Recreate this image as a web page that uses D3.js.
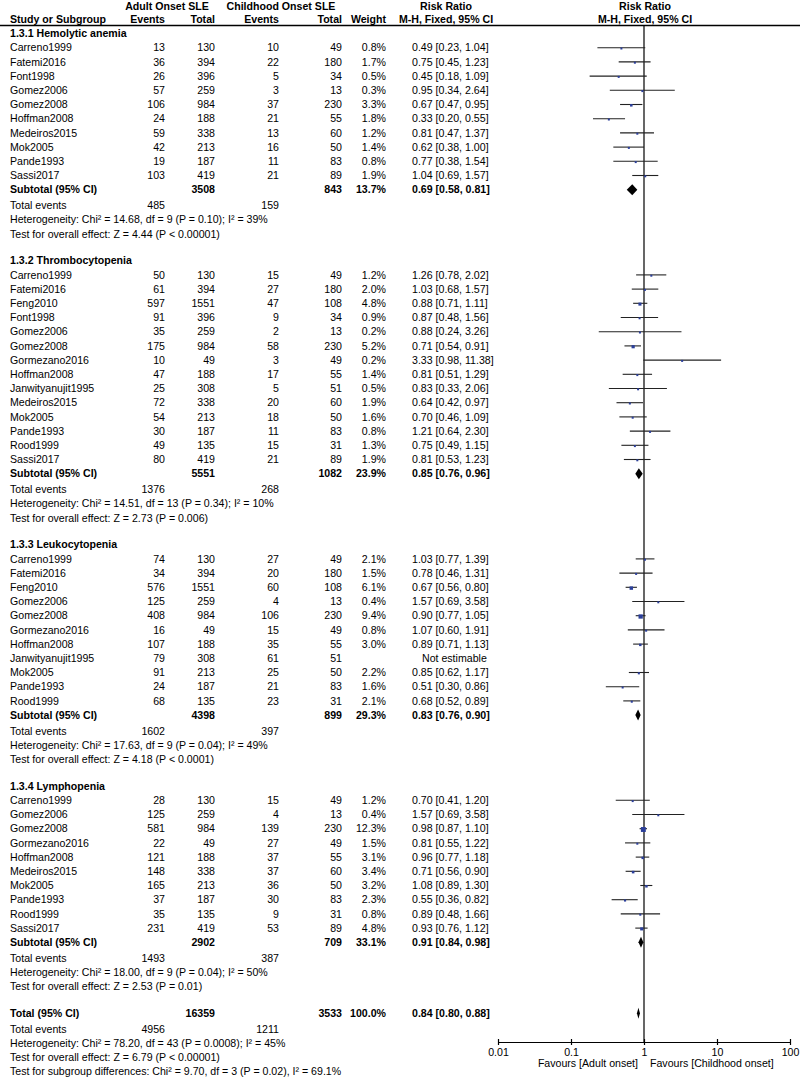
<!DOCTYPE html>
<html><head><meta charset="utf-8">
<script src="https://cdn.jsdelivr.net/npm/d3@7"></script>
<style>
html,body{margin:0;padding:0;background:#fff;}
text{font-family:"Liberation Sans",Arial,sans-serif;font-size:10.6px;fill:#000;}
.b{font-weight:bold;}
</style></head>
<body>
<svg id="c" width="800" height="1077"></svg>
<script>
// ---- DATA ----
// row: [study, adultEvents, adultTotal, childEvents, childTotal, weight%, RR, lower, upper]
const subgroupNames = ["1.3.1 Hemolytic anemia","1.3.2 Thrombocytopenia","1.3.3 Leukocytopenia","1.3.4 Lymphopenia"];
const hemolytic = [
 ["Carreno1999",13,130,10,49,0.8,0.49,0.23,1.04],
 ["Fatemi2016",36,394,22,180,1.7,0.75,0.45,1.23],
 ["Font1998",26,396,5,34,0.5,0.45,0.18,1.09],
 ["Gomez2006",57,259,3,13,0.3,0.95,0.34,2.64],
 ["Gomez2008",106,984,37,230,3.3,0.67,0.47,0.95],
 ["Hoffman2008",24,188,21,55,1.8,0.33,0.20,0.55],
 ["Medeiros2015",59,338,13,60,1.2,0.81,0.47,1.37],
 ["Mok2005",42,213,16,50,1.4,0.62,0.38,1.00],
 ["Pande1993",19,187,11,83,0.8,0.77,0.38,1.54],
 ["Sassi2017",103,419,21,89,1.9,1.04,0.69,1.57]
];
const thrombocytopenia = [
 ["Carreno1999",50,130,15,49,1.2,1.26,0.78,2.02],
 ["Fatemi2016",61,394,27,180,2.0,1.03,0.68,1.57],
 ["Feng2010",597,1551,47,108,4.8,0.88,0.71,1.11],
 ["Font1998",91,396,9,34,0.9,0.87,0.48,1.56],
 ["Gomez2006",35,259,2,13,0.2,0.88,0.24,3.26],
 ["Gomez2008",175,984,58,230,5.2,0.71,0.54,0.91],
 ["Gormezano2016",10,49,3,49,0.2,3.33,0.98,11.38],
 ["Hoffman2008",47,188,17,55,1.4,0.81,0.51,1.29],
 ["Janwityanujit1995",25,308,5,51,0.5,0.83,0.33,2.06],
 ["Medeiros2015",72,338,20,60,1.9,0.64,0.42,0.97],
 ["Mok2005",54,213,18,50,1.6,0.70,0.46,1.09],
 ["Pande1993",30,187,11,83,0.8,1.21,0.64,2.30],
 ["Rood1999",49,135,15,31,1.3,0.75,0.49,1.15],
 ["Sassi2017",80,419,21,89,1.9,0.81,0.53,1.23]
];
const leukocytopenia = [
 ["Carreno1999",74,130,27,49,2.1,1.03,0.77,1.39],
 ["Fatemi2016",34,394,20,180,1.5,0.78,0.46,1.31],
 ["Feng2010",576,1551,60,108,6.1,0.67,0.56,0.80],
 ["Gomez2006",125,259,4,13,0.4,1.57,0.69,3.58],
 ["Gomez2008",408,984,106,230,9.4,0.90,0.77,1.05],
 ["Gormezano2016",16,49,15,49,0.8,1.07,0.60,1.91],
 ["Hoffman2008",107,188,35,55,3.0,0.89,0.71,1.13],
 ["Janwityanujit1995",79,308,61,51,null,null,null,null],
 ["Mok2005",91,213,25,50,2.2,0.85,0.62,1.17],
 ["Pande1993",24,187,21,83,1.6,0.51,0.30,0.86],
 ["Rood1999",68,135,23,31,2.1,0.68,0.52,0.89]
];
const lymphopenia = [
 ["Carreno1999",28,130,15,49,1.2,0.70,0.41,1.20],
 ["Gomez2006",125,259,4,13,0.4,1.57,0.69,3.58],
 ["Gomez2008",581,984,139,230,12.3,0.98,0.87,1.10],
 ["Gormezano2016",22,49,27,49,1.5,0.81,0.55,1.22],
 ["Hoffman2008",121,188,37,55,3.1,0.96,0.77,1.18],
 ["Medeiros2015",148,338,37,60,3.4,0.71,0.56,0.90],
 ["Mok2005",165,213,36,50,3.2,1.08,0.89,1.30],
 ["Pande1993",37,187,30,83,2.3,0.55,0.36,0.82],
 ["Rood1999",35,135,9,31,0.8,0.89,0.48,1.66],
 ["Sassi2017",231,419,53,89,4.8,0.93,0.76,1.12]
];
// subtotal: [adultTotal, childTotal, weight%, RR, lower, upper, adultEvents, childEvents]
const subtotals = [
 [3508,843,13.7,0.69,0.58,0.81,485,159],
 [5551,1082,23.9,0.85,0.76,0.96,1376,268],
 [4398,899,29.3,0.83,0.76,0.90,1602,397],
 [2902,709,33.1,0.91,0.84,0.98,1493,387]
];
const heterogeneity = [
 "Heterogeneity: Chi² = 14.68, df = 9 (P = 0.10); I² = 39%",
 "Heterogeneity: Chi² = 14.51, df = 13 (P = 0.34); I² = 10%",
 "Heterogeneity: Chi² = 17.63, df = 9 (P = 0.04); I² = 49%",
 "Heterogeneity: Chi² = 18.00, df = 9 (P = 0.04); I² = 50%"
];
const overallEffect = [
 "Test for overall effect: Z = 4.44 (P < 0.00001)",
 "Test for overall effect: Z = 2.73 (P = 0.006)",
 "Test for overall effect: Z = 4.18 (P < 0.0001)",
 "Test for overall effect: Z = 2.53 (P = 0.01)"
];
const total = [16359,3533,100.0,0.84,0.80,0.88,4956,1211];
const totalNotes = [
 "Heterogeneity: Chi² = 78.20, df = 43 (P = 0.0008); I² = 45%",
 "Test for overall effect: Z = 6.79 (P < 0.00001)",
 "Test for subgroup differences: Chi² = 9.70, df = 3 (P = 0.02), I² = 69.1%"
];
const axisTicks = [0.01,0.1,1,10,100];
const axisTickLabels = ["0.01","0.1","1","10","100"];
const favourLabels = ["Favours [Adult onset]","Favours [Childhood onset]"];

// ---- LAYOUT ----
const svg = d3.select("#c");
const groups = [hemolytic, thrombocytopenia, leukocytopenia, lymphopenia];
const x = d3.scaleLog().domain([0.01,100]).range([498,790]);
const nRows = 74;
const y = d3.scaleLinear().domain([0, nRows-1]).range([33.5, 33.5 + (nRows-1)*14.2]);
const noteShift = 1.5;
const col = {name:10, ae:165, at:215, ce:279, ct:342, w:386, rr:412};
const fmt2 = d3.format(".2f");
const fmtW = d => d.toFixed(1) + "%";
const rrText = (r,l,u) => `${fmt2(r)} [${fmt2(l)}, ${fmt2(u)}]`;

function txt(xp, yp, s, anchor, bold){
  svg.append("text").attr("x",xp).attr("y",yp).attr("dy","0.35em")
    .attr("text-anchor",anchor||"start").attr("class",bold?"b":null).text(s);
}

// header
txt(167, 6, "Adult Onset SLE", "middle", true);
txt(281, 6, "Childhood Onset SLE", "middle", true);
txt(446, 6, "Risk Ratio", "middle", true);
txt(645, 6, "Risk Ratio", "middle", true);
txt(col.name, 19, "Study or Subgroup", "start", true);
txt(col.ae, 19, "Events", "end", true);
txt(col.at, 19, "Total", "end", true);
txt(col.ce, 19, "Events", "end", true);
txt(col.ct, 19, "Total", "end", true);
txt(col.w, 19, "Weight", "end", true);
txt(446, 19, "M-H, Fixed, 95% CI", "middle", true);
txt(645, 19, "M-H, Fixed, 95% CI", "middle", true);
svg.append("line").attr("x1",0).attr("x2",800).attr("y1",25.5).attr("y2",25.5)
  .attr("stroke","#000").attr("stroke-width",1.3);

const axisY = 1042;
// line of no effect
svg.append("line").attr("x1",x(1)).attr("x2",x(1)).attr("y1",25.5).attr("y2",axisY)
  .attr("stroke","#000").attr("stroke-width",1.2);

function diamond(r,l,u,yc){
  const h = 5.5;
  svg.append("path").attr("d",`M${x(l)},${yc}L${x(r)},${yc-h}L${x(u)},${yc}L${x(r)},${yc+h}Z`)
    .attr("fill","#000");
}

let row = 0;
groups.forEach((g, gi) => {
  txt(col.name, y(row), subgroupNames[gi], "start", true);
  row++;
  g.forEach(d => {
    const yy = y(row);
    txt(col.name, yy, d[0]);
    txt(col.ae, yy, d[1], "end");
    txt(col.at, yy, d[2], "end");
    txt(col.ce, yy, d[3], "end");
    txt(col.ct, yy, d[4], "end");
    if (d[5] != null) {
      txt(col.w, yy, fmtW(d[5]), "end");
      txt(col.rr, yy, rrText(d[6],d[7],d[8]));
      svg.append("line").attr("x1",x(d[7])).attr("x2",x(d[8])).attr("y1",yy).attr("y2",yy)
        .attr("stroke","#222").attr("stroke-width",1.1);
      const s = Math.max(2, 1.4*Math.sqrt(d[5]));
      svg.append("rect").attr("x",x(d[6])-s/2).attr("y",yy-s/2+0.8).attr("width",s).attr("height",s)
        .attr("fill","#2b3f9a");
    } else {
      txt(422, yy, "Not estimable");
    }
    row++;
  });
  const st = subtotals[gi];
  let yy = y(row);
  txt(col.name, yy, "Subtotal (95% CI)", "start", true);
  txt(col.at, yy, st[0], "end", true);
  txt(col.ct, yy, st[1], "end", true);
  txt(col.w, yy, fmtW(st[2]), "end", true);
  txt(col.rr, yy, rrText(st[3],st[4],st[5]), "start", true);
  diamond(st[3],st[4],st[5],yy);
  row++;
  yy = y(row) + noteShift;
  txt(col.name, yy, "Total events");
  txt(col.ae, yy, st[6], "end");
  txt(col.ce, yy, st[7], "end");
  row++;
  txt(col.name, y(row) + noteShift, heterogeneity[gi]); row++;
  txt(col.name, y(row) + noteShift, overallEffect[gi]); row++;
  row++;
});
// total
let yt = y(row);
txt(col.name, yt, "Total (95% CI)", "start", true);
txt(col.at, yt, total[0], "end", true);
txt(col.ct, yt, total[1], "end", true);
txt(col.w, yt, fmtW(total[2]), "end", true);
txt(col.rr, yt, rrText(total[3],total[4],total[5]), "start", true);
diamond(total[3],total[4],total[5],yt);
row++;
yt = y(row) + noteShift;
txt(col.name, yt, "Total events");
txt(col.ae, yt, total[6], "end");
txt(col.ce, yt, total[7], "end");
row++;
totalNotes.forEach(n => { txt(col.name, y(row) + noteShift, n); row++; });

// axis
const axis = d3.axisBottom(x).tickValues(axisTicks).tickFormat((d,i)=>axisTickLabels[i]).tickSize(0).tickPadding(6);
const ag = svg.append("g").attr("transform",`translate(0,${axisY})`).call(axis);
ag.select(".domain").attr("stroke","#000").attr("stroke-width",1.2);
ag.selectAll(".tick line").attr("y1",-3).attr("y2",3).attr("stroke","#000").attr("stroke-width",1.2);
ag.selectAll(".tick text").attr("font-size",null).attr("font-family",null).attr("fill","#000");
ag.attr("font-size",null).attr("font-family",null);
txt(x(1)-6, 1063, favourLabels[0], "end");
txt(x(1)+6, 1063, favourLabels[1], "start");
</script>
</body></html>
